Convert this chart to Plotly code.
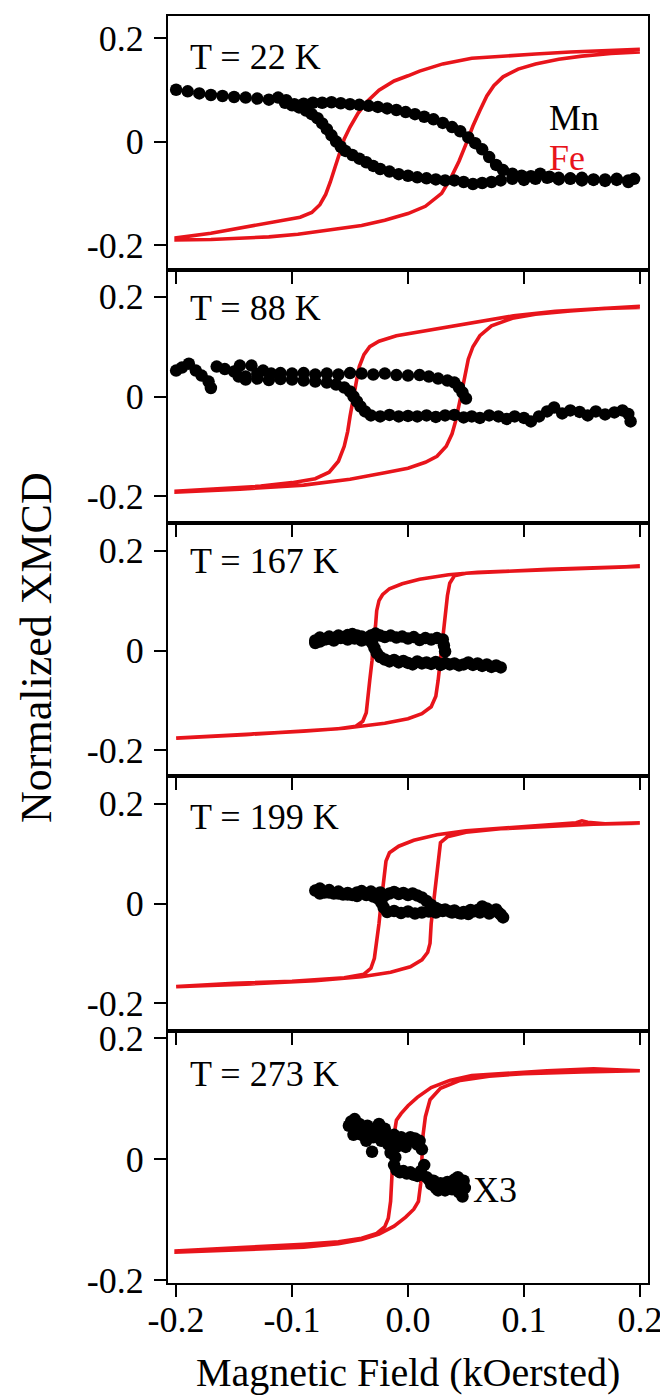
import plotly.graph_objects as go

# ---------------- data ----------------
temps = ["T = 22 K", "T = 88 K", "T = 167 K", "T = 199 K", "T = 273 K"]
x_ticks = [-0.2, -0.1, 0.0, 0.1, 0.2]
x_tick_labels = ["-0.2", "-0.1", "0.0", "0.1", "0.2"]
y_ticks = [-0.2, 0.0, 0.2]
y_tick_labels = ["-0.2", "0", "0.2"]

# Fe loops (red): descending branch then ascending branch
fe1_x = [0.200, 0.170, 0.140, 0.110, 0.080, 0.055, 0.030, 0.010, 0.000, -0.012, -0.025, -0.035, -0.043, -0.050,
         -0.055, -0.059, -0.063, -0.067, -0.071, -0.076, -0.083, -0.093, -0.110, -0.130, -0.150, -0.170, -0.200,
         -0.200, -0.170, -0.145, -0.120, -0.095, -0.070, -0.040, -0.020, 0.000, 0.015, 0.029, 0.037, 0.044, 0.050,
         0.056, 0.062, 0.068, 0.074, 0.082, 0.095, 0.110, 0.130, 0.150, 0.175, 0.200]
fe1_y = [0.178, 0.176, 0.173, 0.169, 0.165, 0.161, 0.150, 0.136, 0.127, 0.117, 0.099, 0.078, 0.055, 0.028,
         0.005, -0.020, -0.050, -0.078, -0.102, -0.122, -0.137, -0.146, -0.153, -0.162, -0.170, -0.177, -0.186,
         -0.190, -0.189, -0.187, -0.184, -0.179, -0.172, -0.162, -0.152, -0.139, -0.125, -0.100, -0.070, -0.038, -0.005,
         0.030, 0.060, 0.088, 0.108, 0.125, 0.140, 0.150, 0.159, 0.165, 0.170, 0.173]

fe2_x = [0.200, 0.160, 0.127, 0.091, 0.055, 0.018, -0.010, -0.025, -0.033, -0.038, -0.042, -0.044, -0.046, -0.048,
         -0.050, -0.052, -0.055, -0.060, -0.068, -0.080, -0.100, -0.127, -0.164, -0.200,
         -0.200, -0.145, -0.090, -0.050, -0.020, 0.000, 0.015, 0.025, 0.033, 0.038, 0.041, 0.044, 0.046, 0.049,
         0.052, 0.056, 0.062, 0.072, 0.090, 0.110, 0.140, 0.170, 0.200]
fe2_y = [0.181, 0.176, 0.171, 0.162, 0.148, 0.134, 0.122, 0.111, 0.100, 0.084, 0.060, 0.037, 0.012, -0.010,
         -0.040, -0.070, -0.100, -0.130, -0.152, -0.165, -0.173, -0.180, -0.186, -0.190,
         -0.192, -0.186, -0.178, -0.166, -0.153, -0.144, -0.132, -0.120, -0.100, -0.075, -0.050, -0.020, 0.005, 0.040,
         0.075, 0.100, 0.122, 0.142, 0.157, 0.165, 0.172, 0.177, 0.179]

fe3_x = [0.200, 0.150, 0.100, 0.060, 0.035, 0.010, -0.005, -0.016, -0.022, -0.025, -0.027, -0.028, -0.030, -0.031,
         -0.033, -0.035, -0.036, -0.039, -0.045, -0.060, -0.090, -0.140, -0.200,
         -0.200, -0.140, -0.090, -0.055, -0.020, 0.000, 0.012, 0.020, 0.024, 0.026, 0.028, 0.030, 0.032, 0.034,
         0.036, 0.040, 0.050, 0.080, 0.120, 0.160, 0.200]
fe3_y = [0.169, 0.165, 0.161, 0.157, 0.152, 0.143, 0.134, 0.124, 0.112, 0.100, 0.080, 0.050, 0.015, -0.020,
         -0.060, -0.100, -0.125, -0.142, -0.152, -0.157, -0.162, -0.169, -0.176,
         -0.176, -0.169, -0.162, -0.156, -0.146, -0.137, -0.127, -0.113, -0.092, -0.060, -0.015, 0.030, 0.070, 0.110,
         0.135, 0.150, 0.155, 0.159, 0.163, 0.166, 0.169]

fe4_x = [0.200, 0.170, 0.155, 0.150, 0.145, 0.120, 0.080, 0.050, 0.025, 0.005, -0.008, -0.016, -0.019, -0.021,
         -0.023, -0.025, -0.027, -0.029, -0.032, -0.038, -0.055, -0.100, -0.150, -0.200,
         -0.200, -0.140, -0.080, -0.040, -0.015, 0.002, 0.012, 0.017, 0.019, 0.020, 0.022, 0.024, 0.026, 0.028,
         0.034, 0.050, 0.080, 0.120, 0.160, 0.200]
fe4_y = [0.162, 0.160, 0.163, 0.166, 0.162, 0.158, 0.152, 0.146, 0.138, 0.127, 0.115, 0.102, 0.085, 0.050,
         0.005, -0.040, -0.080, -0.110, -0.130, -0.142, -0.149, -0.156, -0.160, -0.166,
         -0.167, -0.162, -0.155, -0.147, -0.138, -0.127, -0.113, -0.098, -0.080, -0.040, 0.000, 0.050, 0.095, 0.122,
         0.134, 0.143, 0.150, 0.155, 0.159, 0.161]

fe5_x = [0.200, 0.160, 0.120, 0.090, 0.055, 0.036, 0.020, 0.008, 0.000, -0.006, -0.010, -0.012, -0.013, -0.014,
         -0.015, -0.017, -0.020, -0.027, -0.040, -0.060, -0.090, -0.140, -0.200,
         -0.200, -0.140, -0.090, -0.060, -0.040, -0.025, -0.012, -0.002, 0.005, 0.009, 0.011, 0.012, 0.013, 0.015,
         0.019, 0.028, 0.045, 0.070, 0.100, 0.150, 0.200]
fe5_y = [0.146, 0.149, 0.146, 0.143, 0.138, 0.130, 0.118, 0.102, 0.088, 0.075, 0.064, 0.040, 0.000, -0.040,
         -0.070, -0.098, -0.112, -0.123, -0.131, -0.137, -0.141, -0.146, -0.152,
         -0.154, -0.150, -0.146, -0.140, -0.133, -0.124, -0.111, -0.096, -0.083, -0.070, -0.040, 0.000, 0.040, 0.070,
         0.098, 0.117, 0.130, 0.137, 0.141, 0.144, 0.146]

# Mn loops (black dots)
mn1_x = [-0.200, -0.190, -0.180, -0.170, -0.160, -0.150, -0.140, -0.130, -0.120, -0.112, -0.105, -0.098, -0.090,
         -0.082, -0.074, -0.066, -0.058, -0.050, -0.042, -0.034, -0.026, -0.018, -0.010, -0.002, 0.006, 0.014,
         0.022, 0.030, 0.038, 0.045, 0.052, 0.058, 0.064, 0.070, 0.076, 0.082, 0.090, 0.098, 0.106, 0.114, 0.122,
         0.130, 0.140, 0.150, 0.160, 0.170, 0.180, 0.190, 0.195,
         0.190, 0.180, 0.170, 0.160, 0.150, 0.140, 0.130, 0.120, 0.110, 0.100, 0.090, 0.080, 0.072, 0.064, 0.056,
         0.048, 0.040, 0.032, 0.024, 0.016, 0.008, 0.000, -0.008, -0.016, -0.024, -0.030, -0.036, -0.042, -0.048,
         -0.054, -0.058, -0.062, -0.066, -0.070, -0.074, -0.078, -0.083, -0.088, -0.094, -0.100, -0.106]
mn1_y = [0.100, 0.097, 0.093, 0.090, 0.088, 0.086, 0.085, 0.083, 0.081, 0.085, 0.080, 0.072, 0.073,
         0.075, 0.075, 0.076, 0.074, 0.072, 0.071, 0.069, 0.067, 0.064, 0.061, 0.057, 0.053, 0.048,
         0.043, 0.036, 0.028, 0.020, 0.008, -0.003, -0.015, -0.030, -0.045, -0.055, -0.062, -0.066, -0.067, -0.062, -0.068,
         -0.070, -0.072, -0.070, -0.074, -0.073, -0.072, -0.075, -0.072,
         -0.078, -0.074, -0.076, -0.073, -0.075, -0.071, -0.073, -0.070, -0.072, -0.074, -0.072, -0.075, -0.078, -0.080, -0.082,
         -0.078, -0.075, -0.075, -0.073, -0.071, -0.069, -0.066, -0.063, -0.058, -0.053, -0.047, -0.040, -0.033, -0.026,
         -0.018, -0.010, 0.000, 0.012, 0.024, 0.035, 0.045, 0.053, 0.060, 0.066, 0.070, 0.075]

mn2_x = [-0.200, -0.195, -0.189, -0.183, -0.178, -0.172, -0.170, -0.165, -0.158, -0.150, -0.145, -0.140, -0.135,
         -0.130, -0.125, -0.118, -0.110, -0.100, -0.090, -0.080, -0.070, -0.060, -0.050, -0.040, -0.030, -0.020,
         -0.010, 0.000, 0.010, 0.018, 0.026, 0.034, 0.040, 0.044, 0.047, 0.050,
         0.192, 0.190, 0.185, 0.178, 0.170, 0.162, 0.155, 0.148, 0.140, 0.133, 0.126, 0.120, 0.113, 0.106, 0.100,
         0.092, 0.085, 0.078, 0.070, 0.062, 0.055, 0.048, 0.040, 0.032, 0.024, 0.016, 0.008, 0.000, -0.008, -0.016,
         -0.024, -0.032, -0.037, -0.041, -0.044, -0.047, -0.050, -0.055, -0.062, -0.070, -0.080, -0.090, -0.100,
         -0.110, -0.120, -0.130, -0.140, -0.146]
mn2_y = [0.052, 0.058, 0.066, 0.052, 0.042, 0.030, 0.017, 0.060, 0.055, 0.050, 0.062, 0.040, 0.062,
         0.045, 0.052, 0.046, 0.047, 0.046, 0.047, 0.044, 0.046, 0.044, 0.047, 0.046, 0.044, 0.046,
         0.043, 0.042, 0.043, 0.040, 0.036, 0.032, 0.028, 0.018, 0.008, -0.004,
         -0.050, -0.035, -0.028, -0.032, -0.036, -0.030, -0.038, -0.031, -0.028, -0.034, -0.022, -0.030, -0.040, -0.050, -0.043,
         -0.040, -0.045, -0.040, -0.038, -0.043, -0.040, -0.042, -0.037, -0.038, -0.041, -0.038, -0.040, -0.039, -0.040, -0.037,
         -0.040, -0.038, -0.030, -0.020, -0.010, 0.000, 0.010, 0.018, 0.024, 0.028, 0.030, 0.032, 0.034,
         0.035, 0.033, 0.036, 0.034, 0.040]

mn3_x = [-0.080, -0.076, -0.072, -0.068, -0.064, -0.060, -0.056, -0.052, -0.048, -0.044, -0.040, -0.036, -0.032,
         -0.028, -0.024, -0.020, -0.015, -0.010, -0.005, 0.000, 0.005, 0.010, 0.015, 0.020, 0.025, 0.030, 0.031, 0.032,
         0.080, 0.076, 0.072, 0.068, 0.064, 0.060, 0.056, 0.052, 0.048, 0.044, 0.040, 0.036, 0.032, 0.028, 0.024,
         0.020, 0.016, 0.012, 0.008, 0.004, 0.000, -0.004, -0.008, -0.012, -0.016, -0.020, -0.024, -0.027, -0.029,
         -0.031, -0.035, -0.040, -0.046, -0.052, -0.058, -0.064, -0.070, -0.076, -0.080]
mn3_y = [0.020, 0.026, 0.022, 0.028, 0.025, 0.030, 0.027, 0.031, 0.033, 0.030, 0.028, 0.025, 0.030,
         0.034, 0.030, 0.027, 0.030, 0.026, 0.028, 0.024, 0.027, 0.021, 0.025, 0.022, 0.025, 0.022, 0.010, -0.002,
         -0.034, -0.030, -0.033, -0.028, -0.031, -0.026, -0.029, -0.024, -0.028, -0.030, -0.026, -0.028, -0.025, -0.029, -0.023,
         -0.027, -0.024, -0.026, -0.022, -0.028, -0.025, -0.021, -0.024, -0.019, -0.022, -0.018, -0.013, -0.005, 0.005,
         0.015, 0.022, 0.020, 0.024, 0.022, 0.025, 0.020, 0.023, 0.018, 0.015]

mn4_x = [-0.080, -0.076, -0.072, -0.068, -0.064, -0.060, -0.056, -0.052, -0.048, -0.044, -0.040, -0.036, -0.032,
         -0.028, -0.024, -0.020, -0.016, -0.012, -0.008, -0.004, 0.000, 0.004, 0.008, 0.012, 0.016, 0.020, 0.024,
         0.028, 0.032, 0.036, 0.040, 0.044, 0.048, 0.052, 0.056, 0.060, 0.064, 0.068, 0.072, 0.076, 0.080, 0.082,
         0.078, 0.070, 0.062, 0.054, 0.046, 0.038, 0.030, 0.024, 0.018, 0.012, 0.006, 0.000, -0.006, -0.012, -0.018,
         -0.021, -0.023, -0.026, -0.030, -0.036, -0.044, -0.052, -0.060, -0.068, -0.076]
mn4_y = [0.026, 0.030, 0.022, 0.027, 0.020, 0.024, 0.018, 0.021, 0.017, 0.022, 0.025, 0.020, 0.024,
         0.018, 0.022, 0.016, 0.020, 0.023, 0.019, 0.021, 0.017, 0.020, 0.016, 0.012, 0.005, -0.003, -0.009,
         -0.013, -0.012, -0.016, -0.014, -0.019, -0.017, -0.021, -0.016, -0.013, -0.006, -0.010, -0.015, -0.012, -0.022, -0.028,
         -0.018, -0.020, -0.018, -0.013, -0.020, -0.018, -0.015, -0.018, -0.016, -0.018, -0.020, -0.016, -0.019, -0.015, -0.017,
         -0.008, 0.002, 0.010, 0.014, 0.017, 0.015, 0.018, 0.020, 0.022, 0.020]

mn5_x = [-0.051, -0.049, -0.046, -0.047, -0.044, -0.042, -0.040, -0.038, -0.036, -0.035, -0.033, -0.031, -0.030,
         -0.028, -0.026, -0.025, -0.023, -0.022, -0.020, -0.018, -0.017, -0.015, -0.014, -0.012, -0.011, -0.010,
         -0.008, -0.006, -0.004, -0.002, 0.000, 0.002, 0.004, 0.006, 0.008, 0.010, 0.012,
         -0.012, -0.010, -0.007, -0.004, -0.001, 0.002, 0.005, 0.008, 0.011, 0.014, 0.016, 0.018, 0.020, 0.022,
         0.024, 0.026, 0.028, 0.030, 0.032, 0.034, 0.036, 0.038, 0.040, 0.042, 0.043, 0.044, 0.046, 0.047, 0.048, 0.049]
mn5_y = [0.055, 0.062, 0.066, 0.040, 0.048, 0.058, 0.040, 0.052, 0.030, 0.055, 0.045, 0.012, 0.036,
         0.050, 0.042, 0.058, 0.030, 0.046, 0.050, 0.036, 0.024, 0.010, 0.028, 0.040, 0.003, 0.020,
         0.032, 0.036, 0.028, 0.020, 0.032, 0.036, 0.030, 0.034, 0.024, 0.030, 0.016,
         -0.010, -0.018, -0.022, -0.020, -0.024, -0.022, -0.026, -0.028, -0.020, -0.010, -0.030, -0.034, -0.042, -0.036,
         -0.048, -0.052, -0.040, -0.046, -0.052, -0.038, -0.044, -0.050, -0.034, -0.046, -0.030, -0.055, -0.040, -0.062, -0.036, -0.048]

fe_x = [fe1_x, fe2_x, fe3_x, fe4_x, fe5_x]
fe_y = [fe1_y, fe2_y, fe3_y, fe4_y, fe5_y]
mn_x = [mn1_x, mn2_x, mn3_x, mn4_x, mn5_x]
mn_y = [mn1_y, mn2_y, mn3_y, mn4_y, mn5_y]

# ---------------- style / layout ----------------
RED = "#e8141b"
FONT = "Liberation Serif"
W, H = 668, 1396
L, R, T, B = 160, 28, 8, 121
panel_px = [(8, 262), (262, 515), (515, 768), (768, 1023), (1023, 1275)]
y_ranges = [(-0.248, 0.2425), (-0.254, 0.254), (-0.252, 0.256), (-0.256, 0.256), (-0.205, 0.2116)]
label_y = [0.163, 0.178, 0.180, 0.174, 0.141]
plot_h = H - T - B

fig = go.Figure()
for i in range(5):
    ax = "" if i == 0 else str(i + 1)
    fig.add_trace(go.Scatter(x=fe_x[i], y=fe_y[i], mode="lines",
                             line=dict(color=RED, width=3.6), xaxis="x" + ax, yaxis="y" + ax,
                             showlegend=False, hoverinfo="skip"))
    fig.add_trace(go.Scatter(x=mn_x[i], y=mn_y[i], mode="markers",
                             marker=dict(color="black", size=12.5), xaxis="x" + ax, yaxis="y" + ax,
                             showlegend=False, hoverinfo="skip"))

    top_px, bot_px = panel_px[i]
    dom = [(H - B - bot_px) / plot_h if i < 4 else 0.0, (H - B - top_px) / plot_h if i > 0 else 1.0]
    dom = [max(0.0, dom[0]), min(1.0, dom[1])]
    bottom = (i == 4)
    fig.layout["xaxis" + ax] = dict(
        range=[-0.207, 0.207], anchor="y" + ax, domain=[0, 1],
        tickvals=x_ticks, ticktext=x_tick_labels, showticklabels=bottom,
        ticks="outside", ticklen=12, tickwidth=2, tickcolor="black", ticklabelstandoff=-8,
        showline=True, linecolor="black", linewidth=2, mirror=True,
        showgrid=False, zeroline=False,
        tickfont=dict(family=FONT, size=36, color="black"),
        **({} if i == 0 else {"matches": "x"}))
    fig.layout["yaxis" + ax] = dict(
        range=list(y_ranges[i]), anchor="x" + ax, domain=dom,
        tickvals=y_ticks, ticktext=y_tick_labels,
        ticks="outside", ticklen=12, tickwidth=2, tickcolor="black", ticklabelstandoff=3,
        showline=True, linecolor="black", linewidth=2, mirror=True,
        showgrid=False, zeroline=False,
        tickfont=dict(family=FONT, size=36, color="black"))
    fig.add_annotation(x=-0.19, y=label_y[i], xref="x" + ax, yref="y" + ax, text=temps[i],
                       showarrow=False, xanchor="left", yanchor="middle",
                       font=dict(family=FONT, size=36, color="black"))

fig.add_annotation(x=0.120, y=0.045, xref="x", yref="y", text="Mn", showarrow=False,
                   xanchor="left", yanchor="middle", font=dict(family=FONT, size=36, color="black"))
fig.add_annotation(x=0.120, y=-0.032, xref="x", yref="y", text="Fe", showarrow=False,
                   xanchor="left", yanchor="middle", font=dict(family=FONT, size=36, color=RED))
fig.add_annotation(x=0.054, y=-0.052, xref="x5", yref="y5", text="X3", showarrow=False,
                   xanchor="left", yanchor="middle", font=dict(family=FONT, size=36, color="black"))

fig.add_annotation(x=0.5, y=(H - B - 1364) / plot_h, xref="paper", yref="paper",
                   text="Magnetic Field (kOersted)", showarrow=False, xanchor="center", yanchor="middle",
                   font=dict(family=FONT, size=40, color="black"))
fig.add_annotation(x=(28 - L) / (W - L - R), y=(H - B - 640) / plot_h, xref="paper", yref="paper",
                   text="Normalized XMCD", textangle=-90, showarrow=False, xanchor="center", yanchor="middle",
                   font=dict(family=FONT, size=44, color="black"))

fig.update_layout(width=W, height=H, margin=dict(l=L, r=R, t=T, b=B, autoexpand=False),
                  paper_bgcolor="white", plot_bgcolor="white", showlegend=False)

fig.write_html("out.html")
